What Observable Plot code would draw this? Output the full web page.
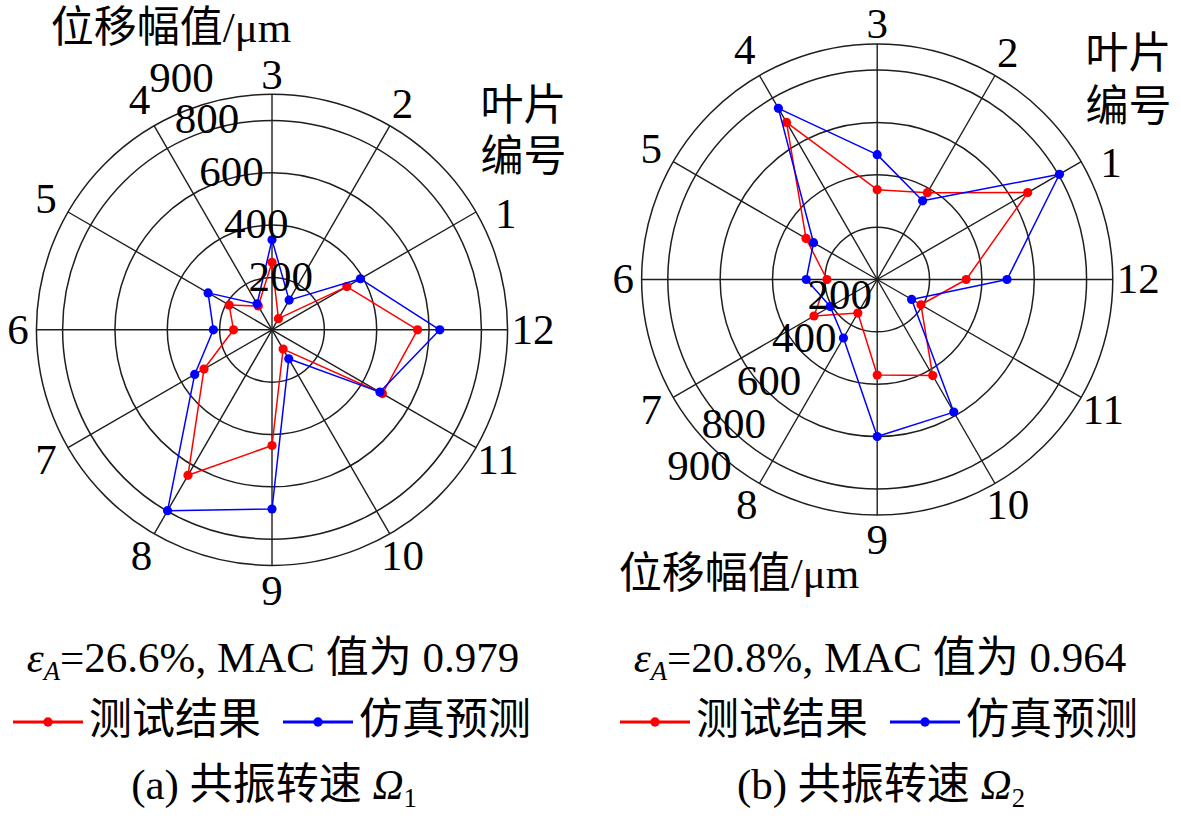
<!DOCTYPE html>
<html>
<head>
<meta charset="utf-8">
<script src="https://cdn.jsdelivr.net/npm/d3@7"></script>
<script src="https://cdn.jsdelivr.net/npm/@observablehq/plot@0.6"></script>
<style>
  html, body { margin: 0; padding: 0; background: #fff; }
  body { width: 1181px; height: 822px; position: relative; overflow: hidden;
         font-family: "Liberation Serif", "Noto Sans CJK SC", serif; color: #000; }
  .panel { position: absolute; top: 0; width: 590px; height: 610px; }
  .cap { position: absolute; width: 600px; text-align: center; font-size: 43px;
         line-height: 50px; height: 50px; white-space: nowrap; }
  .sb { font-size: 0.62em; position: relative; top: 0.3em; line-height: 0; }
  .sw { vertical-align: baseline; }
</style>
</head>
<body>
<div id="chartA" class="panel" style="left:0px"></div>
<div id="chartB" class="panel" style="left:590px"></div>

<div class="cap" style="left:-27px; top:633px"><i>ε</i><span class="sb"><i>A</i></span>=26.6%, MAC 值为 0.979</div>
<div class="cap legend" id="legA" style="left:-28px; top:695px"></div>
<div class="cap" style="left:-26px; top:760px">(a) 共振转速 <i>Ω</i><span class="sb">1</span></div>

<div class="cap" style="left:580px; top:633px"><i>ε</i><span class="sb"><i>A</i></span>=20.8%, MAC 值为 0.964</div>
<div class="cap legend" id="legB" style="left:579px; top:695px"></div>
<div class="cap" style="left:581px; top:760px">(b) 共振转速 <i>Ω</i><span class="sb">2</span></div>

<script>
// ---------- data ----------
const blades = [1, 2, 3, 4, 5, 6, 7, 8, 9, 10, 11, 12];
// (a) resonance speed Ω1, displacement amplitude (μm)
const testA = [330, 49, 258, 105, 189, 147, 300, 642, 442, 85, 487, 556];
const simA  = [390, 131, 344, 114, 282, 224, 341, 798, 685, 128, 476, 641];
// (b) resonance speed Ω2
const testB = [664, 383, 343, 693, 314, 192, 279, 148, 365, 424, 193, 340];
const simB  = [804, 347, 477, 755, 281, 271, 207, 258, 600, 585, 152, 496];
const ringTicks = [200, 400, 600, 800, 900];
const rMax = 900;
const seriesNames = ["测试结果", "仿真预测"];
const seriesColors = ["#ff0000", "#0000ff"];
const radialTitle = "位移幅值/μm";
const bladeTitle = ["叶片", "编号"];

// ---------- layout ----------
const W = 590, H = 610;
const k = 52.35 / 200;             // px per μm
const FONT = '"Liberation Serif", "Noto Sans CJK SC", serif';
const FS = 43;
const deg = a => a * Math.PI / 180;
const bladeAngle = b => b * 30;    // blade 12 at east, counter-clockwise
const px = (v, b) => v * Math.cos(deg(bladeAngle(b)));
const py = (v, b) => v * Math.sin(deg(bladeAngle(b)));
// blade-number label placement (px from centre), small nudges as in the original figure
const labelNudge = {1: {a: 26.4}, 3: {r: 255}, 4: {r: 265}, 6: {r: 254}};
const labelA = b => deg((labelNudge[b] && labelNudge[b].a) ?? bladeAngle(b));
const labelR = b => ((labelNudge[b] && labelNudge[b].r) ?? 261) / k;

function rows(values) {
  return blades.map((b, i) => ({blade: b, v: values[i]}));
}

function chart(cfg) {
  const {test, sim, cx, cy, tick, titlePos, bladePos} = cfg;
  const tickRows = ringTicks.map((t, i) => {
    const last = i === ringTicks.length - 1;
    return {t, x: tick.ax * t + tick.bx + (last ? tick.lx : 0),
               y: tick.ay * t + tick.by + (last ? tick.ly : 0)};
  });
  const line = (data, color) => [
    Plot.line(data, {x: d => px(d.v, d.blade), y: d => py(d.v, d.blade),
      stroke: color, strokeWidth: 1.5, curve: "linear-closed"}),
    Plot.dot(data, {x: d => px(d.v, d.blade), y: d => py(d.v, d.blade),
      r: 4.6, fill: color, stroke: "none"})
  ];
  return Plot.plot({
    width: W, height: H, margin: 0,
    x: {domain: [-cx / k, (W - cx) / k], axis: null},
    y: {domain: [-(H - cy) / k, cy / k], axis: null},
    r: {type: "linear", domain: [0, rMax], range: [0, rMax * k]},
    style: {fontFamily: FONT, background: "transparent", overflow: "visible"},
    marks: [
      Plot.dot(ringTicks, {x: () => 0, y: () => 0, r: d => d, fill: "none",
        stroke: "#1e1e1e", strokeWidth: 1.5}),
      Plot.link(blades, {x1: () => 0, y1: () => 0, x2: b => px(rMax, b), y2: b => py(rMax, b),
        stroke: "#1e1e1e", strokeWidth: 1.4}),
      ...line(rows(test), seriesColors[0]),
      ...line(rows(sim), seriesColors[1]),
      Plot.text(blades, {x: b => labelR(b) * Math.cos(labelA(b)), y: b => labelR(b) * Math.sin(labelA(b)),
        text: b => String(b), fontSize: FS, textAnchor: "middle", lineAnchor: "middle", fill: "#000"}),
      Plot.text(tickRows, {x: "x", y: "y", text: d => String(d.t), fontSize: FS,
        textAnchor: "middle", lineAnchor: "middle", fill: "#000"}),
      Plot.text([radialTitle], {frameAnchor: "top-left", dx: titlePos[0], dy: titlePos[1],
        text: d => d, fontSize: FS, textAnchor: "middle", lineAnchor: "middle", fill: "#000"}),
      Plot.text([bladeTitle[0]], {frameAnchor: "top-left", dx: bladePos[0], dy: bladePos[1],
        text: d => d, fontSize: FS, textAnchor: "middle", lineAnchor: "middle", fill: "#000"}),
      Plot.text([bladeTitle[1]], {frameAnchor: "top-left", dx: bladePos[0], dy: bladePos[2],
        text: d => d, fontSize: FS, textAnchor: "middle", lineAnchor: "middle", fill: "#000"})
    ]
  });
}

document.getElementById("chartA").append(chart({
  test: testA, sim: simA, cx: 271.5, cy: 329.3,
  tick: {ax: -0.47, bx: 127.5, ay: 1.008, by: -1, lx: -50, ly: 56},
  titlePos: [170.5, 28], bladePos: [523, 106, 157]
}));
document.getElementById("chartB").append(chart({
  test: testB, sim: simB, cx: 286.7, cy: 279.0,
  tick: {ax: -0.6745, bx: -8.5, ay: -0.8215, by: 103.5, lx: -63, ly: -77},
  titlePos: [148.5, 573.5], bladePos: [538, 54, 106.5]
}));

// ---------- legends ----------
function swatch(color) {
  const ns = "http://www.w3.org/2000/svg";
  const s = document.createElementNS(ns, "svg");
  s.setAttribute("width", 70); s.setAttribute("height", 24);
  s.setAttribute("class", "sw");
  const l = document.createElementNS(ns, "line");
  l.setAttribute("x1", 0); l.setAttribute("x2", 70); l.setAttribute("y1", 12); l.setAttribute("y2", 12);
  l.setAttribute("stroke", color); l.setAttribute("stroke-width", 3);
  const c = document.createElementNS(ns, "circle");
  c.setAttribute("cx", 35); c.setAttribute("cy", 12); c.setAttribute("r", 4.7); c.setAttribute("fill", color);
  s.append(l, c);
  return s;
}
for (const id of ["legA", "legB"]) {
  const el = document.getElementById(id);
  seriesNames.forEach((name, i) => {
    const sw = swatch(seriesColors[i]);
    sw.style.marginRight = "6px";
    if (i > 0) sw.style.marginLeft = "22px";
    const t = document.createElement("span");
    t.textContent = name;
    el.append(sw, t);
  });
}
</script>
</body>
</html>
